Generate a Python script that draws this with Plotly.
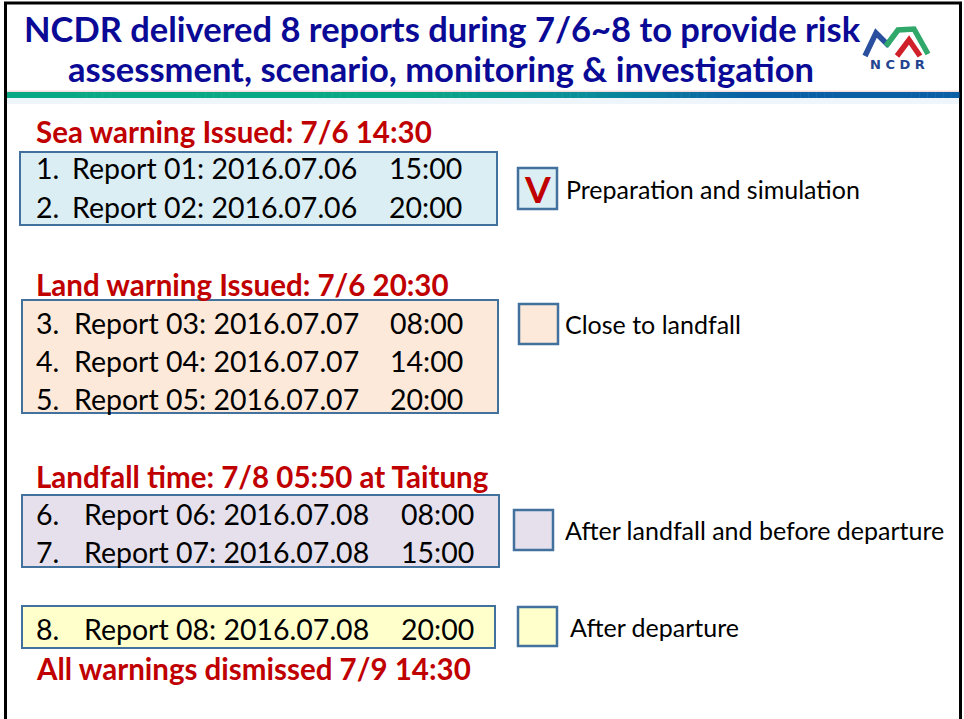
import plotly.graph_objects as go

# ---------------- data ----------------
title_lines = ["NCDR delivered 8 reports during 7/6~8 to provide risk",
               "assessment, scenario, monitoring & investigation"]
phase_headers = ["Sea warning Issued: 7/6 14:30",
                 "Land warning Issued: 7/6 20:30",
                 "Landfall time: 7/8 05:50 at Taitung"]
footer_text = "All warnings dismissed 7/9 14:30"
report_nums = [1, 2, 3, 4, 5, 6, 7, 8]
report_ids = ["01", "02", "03", "04", "05", "06", "07", "08"]
report_dates = ["2016.07.06", "2016.07.06", "2016.07.07", "2016.07.07",
                "2016.07.07", "2016.07.08", "2016.07.08", "2016.07.08"]
report_times = ["15:00", "20:00", "08:00", "14:00", "20:00", "08:00", "15:00", "20:00"]
report_phase = [0, 0, 1, 1, 1, 2, 2, 3]
phase_labels = ["Preparation and simulation", "Close to landfall",
                "After landfall and before departure", "After departure"]
checked_phase = 0
logo_text = "NCDR"

# ---------------- layout / style ----------------
W, H = 964, 719
FONT = "Lato"
NAVY = "#0a0a96"
RED = "#c00000"
BORDER = "#41719c"
phase_fill = ["#dbeef4", "#fde9d9", "#e5e0ec", "#ffffcc"]
box_rects = [(20, 152, 497, 225), (22, 300, 498, 413), (22, 495, 499, 567), (22, 606, 495, 648)]
line_y = [168, 207, 323, 361, 399, 514, 552, 629]
num_x = 37
report_x = [73, 73, 75, 75, 75, 85, 85, 85]
time_x = [390, 390, 391, 391, 391, 402, 402, 402]
header_y = [131, 284, 476]
footer_y = 668
head_x = 37
legend_rects = [(518, 168, 557, 209), (519, 304, 558, 344), (514, 510, 553, 550), (518, 607, 557, 646)]
legend_text_x = [567, 566, 566, 571]
XS = -3  # compensates annotation padding

REPORT_SIZE = 28.5
HEAD_SIZE = 29.5
LEG_SIZE = 25
TITLE_SIZE = 34.5

fig = go.Figure()
shapes = []
ann = []


def lerp(c1, c2, t):
    a = [int(c1[i:i + 2], 16) for i in (1, 3, 5)]
    b = [int(c2[i:i + 2], 16) for i in (1, 3, 5)]
    return "#%02x%02x%02x" % tuple(round(a[k] + (b[k] - a[k]) * t) for k in range(3))


# slide frame
shapes.append(dict(type="line", x0=5.5, x1=5.5, y0=2, y1=H, line=dict(color="black", width=3)))
shapes.append(dict(type="line", x0=4, x1=962, y0=3, y1=3, line=dict(color="black", width=3)))
shapes.append(dict(type="line", x0=960.5, x1=960.5, y0=2, y1=H, line=dict(color="black", width=3)))

# gradient header rule
shapes.append(dict(type="rect", x0=7, x1=959, y0=98, y1=104, fillcolor="#eef6fb", line=dict(width=0), layer="below"))
shapes.append(dict(type="rect", x0=7, x1=959, y0=90.5, y1=92, fillcolor="#f6dede", line=dict(width=0), layer="below"))
N = 120
GREEN, TEAL, BLUE = "#0aa884", "#0a8f9a", "#0b5fa5"
for i in range(N):
    x0 = 7 + (959 - 7) * i / N
    x1 = 7 + (959 - 7) * (i + 1) / N + 0.5
    t = (i + 0.5) / N
    if t < 0.42:
        c = GREEN
    elif t < 0.6:
        c = lerp(GREEN, TEAL, (t - 0.42) / 0.18)
    elif t < 0.78:
        c = lerp(TEAL, BLUE, (t - 0.6) / 0.18)
    else:
        c = BLUE
    shapes.append(dict(type="rect", x0=x0, x1=x1, y0=92, y1=98, fillcolor=c, line=dict(width=0)))

# title
for txt, y, xc in zip(title_lines, [28, 68], [442, 441]):
    ann.append(dict(x=xc, y=y, text="<b>%s</b>" % txt, xanchor="center", yanchor="middle",
                    font=dict(family=FONT, size=TITLE_SIZE, color=NAVY)))

# logo
fig.add_trace(go.Scatter(x=[865, 876, 889], y=[56, 33, 46], mode="lines",
                         line=dict(color="#2a4f9e", width=5.5), hoverinfo="skip", showlegend=False))
fig.add_trace(go.Scatter(x=[886, 898, 914, 928], y=[46, 30, 29, 54], mode="lines",
                         line=dict(color="#2fa86a", width=5.5), hoverinfo="skip", showlegend=False))
fig.add_trace(go.Scatter(x=[897, 909, 920], y=[56, 40, 56], mode="lines",
                         line=dict(color="#d0202a", width=5.5), hoverinfo="skip", showlegend=False))
ann.append(dict(x=897, y=64, text="<b>%s</b>" % " ".join(logo_text), xanchor="center", yanchor="middle",
                font=dict(family="DejaVu Sans", size=13, color="#24448f")))

# phase boxes
for (x0, y0, x1, y1), fc in zip(box_rects, phase_fill):
    shapes.append(dict(type="rect", x0=x0, x1=x1, y0=y0, y1=y1, fillcolor=fc,
                       line=dict(color=BORDER, width=2)))

# headers
for txt, y in zip(phase_headers, header_y):
    ann.append(dict(x=head_x, y=y, text="<b>%s</b>" % txt, xanchor="left", yanchor="middle", xshift=XS,
                    font=dict(family=FONT, size=HEAD_SIZE, color=RED)))
ann.append(dict(x=head_x, y=footer_y, text="<b>%s</b>" % footer_text, xanchor="left", yanchor="middle", xshift=XS,
                font=dict(family=FONT, size=HEAD_SIZE, color=RED)))

# report lines
for i in range(len(report_nums)):
    y = line_y[i]
    f = dict(family=FONT, size=REPORT_SIZE, color="black")
    ann.append(dict(x=num_x, y=y, text="%d." % report_nums[i], xanchor="left", yanchor="middle", xshift=XS, font=f))
    ann.append(dict(x=report_x[i], y=y, text="Report %s: %s" % (report_ids[i], report_dates[i]),
                    xanchor="left", yanchor="middle", xshift=XS, font=f))
    ann.append(dict(x=time_x[i], y=y, text=report_times[i], xanchor="left", yanchor="middle", xshift=XS, font=f))

# legend
for k, ((x0, y0, x1, y1), fc, lab) in enumerate(zip(legend_rects, phase_fill, phase_labels)):
    shapes.append(dict(type="rect", x0=x0, x1=x1, y0=y0, y1=y1, fillcolor=fc,
                       line=dict(color=BORDER, width=2.5)))
    yc = (y0 + y1) / 2
    ann.append(dict(x=legend_text_x[k], y=yc, text=lab, xanchor="left", yanchor="middle", xshift=XS,
                    font=dict(family=FONT, size=LEG_SIZE, color="black")))
    if k == checked_phase:
        ann.append(dict(x=(x0 + x1) / 2, y=yc, text="<b>V</b>", xanchor="center", yanchor="middle",
                        font=dict(family=FONT, size=37, color=RED)))

for a in ann:
    a.update(xref="x", yref="y", showarrow=False)

fig.update_layout(
    width=W, height=H, margin=dict(l=0, r=0, t=0, b=0),
    paper_bgcolor="white", plot_bgcolor="white",
    xaxis=dict(range=[0, W], visible=False, fixedrange=True),
    yaxis=dict(range=[H, 0], visible=False, fixedrange=True),
    shapes=shapes, annotations=ann, showlegend=False,
)
fig.write_html("out.html", config={"displayModeBar": False},
               post_script="document.body.style.margin='0';")
